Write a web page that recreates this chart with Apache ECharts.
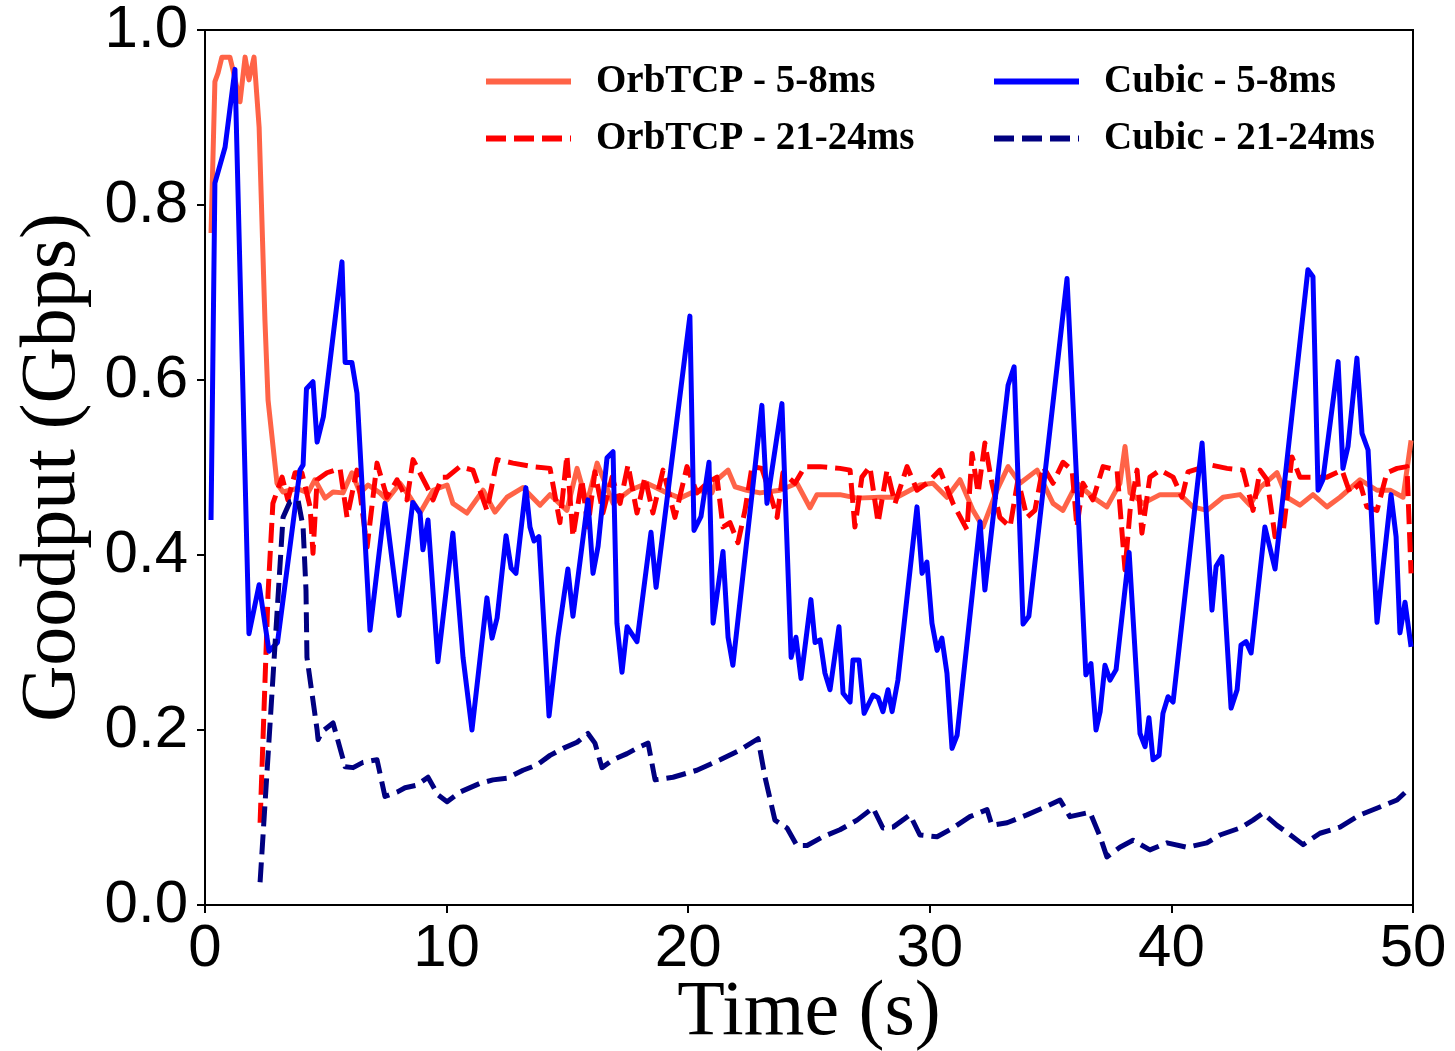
<!DOCTYPE html>
<html>
<head>
<meta charset="utf-8">
<script src="https://cdn.jsdelivr.net/npm/echarts@6/dist/echarts.min.js"></script>
<style>
  html, body { margin: 0; padding: 0; background: #fff; }
  #goodput-graph { width: 1455px; height: 1051px; }
</style>
</head>
<body>
<div id="goodput-graph"></div>
<script>
// time (s) / goodput (Gbps)
const orb_short_t = [0.25, 0.41, 0.54, 0.7, 1.03, 1.16, 1.45, 1.66, 1.82, 2.03, 2.24, 2.48, 2.61, 2.98, 3.23, 3.81, 4.26, 4.55, 4.97, 5.3, 5.71, 6.08, 6.42, 6.75, 7.24, 7.53, 8.07, 8.49, 8.9, 9.44, 10.02, 10.26, 10.84, 11.51, 12.0, 12.5, 13.16, 13.87, 14.28, 14.98, 15.4, 15.81, 16.23, 16.89, 17.59, 18.29, 19.12, 19.66, 20.36, 20.98, 21.19, 21.65, 21.94, 22.43, 22.97, 23.8, 24.5, 25.04, 25.33, 26.28, 26.99, 27.94, 28.64, 29.59, 30.13, 30.71, 31.25, 31.79, 32.2, 32.78, 33.24, 33.73, 34.44, 35.1, 35.51, 36.09, 36.75, 37.33, 37.87, 38.08, 38.29, 38.83, 39.53, 40.36, 40.89, 41.47, 42.14, 42.84, 43.25, 43.67, 44.37, 44.78, 45.32, 45.86, 46.44, 46.98, 47.81, 48.51, 49.05, 49.59, 49.92];
const orb_short_v = [0.768, 0.941, 0.951, 0.969, 0.969, 0.954, 0.918, 0.969, 0.943, 0.969, 0.889, 0.669, 0.577, 0.482, 0.472, 0.476, 0.471, 0.486, 0.465, 0.472, 0.471, 0.494, 0.471, 0.48, 0.471, 0.463, 0.482, 0.466, 0.448, 0.474, 0.48, 0.459, 0.448, 0.474, 0.449, 0.466, 0.477, 0.457, 0.469, 0.451, 0.499, 0.459, 0.505, 0.459, 0.474, 0.482, 0.471, 0.465, 0.474, 0.471, 0.486, 0.497, 0.478, 0.474, 0.471, 0.474, 0.482, 0.454, 0.469, 0.469, 0.465, 0.466, 0.466, 0.48, 0.482, 0.466, 0.486, 0.451, 0.432, 0.474, 0.501, 0.482, 0.497, 0.459, 0.451, 0.482, 0.466, 0.455, 0.482, 0.524, 0.471, 0.459, 0.469, 0.469, 0.455, 0.451, 0.466, 0.469, 0.457, 0.477, 0.494, 0.466, 0.457, 0.469, 0.455, 0.466, 0.486, 0.474, 0.474, 0.466, 0.531];

const orb_long_t = [2.28, 2.61, 2.81, 3.19, 3.43, 3.73, 4.01, 4.35, 4.47, 4.64, 5.05, 5.59, 5.88, 6.29, 6.71, 7.12, 7.53, 7.95, 8.36, 8.61, 9.19, 9.44, 9.81, 10.02, 10.55, 11.09, 11.67, 12.09, 12.75, 13.58, 14.28, 14.69, 14.98, 15.23, 15.6, 15.85, 16.14, 16.47, 16.85, 17.18, 17.51, 17.88, 18.21, 18.54, 18.96, 19.45, 19.95, 20.36, 20.78, 21.19, 21.44, 21.73, 22.06, 22.35, 22.64, 23.05, 23.38, 23.68, 23.92, 24.42, 24.83, 25.46, 26.28, 26.7, 26.9, 27.19, 27.52, 27.86, 28.23, 28.56, 29.06, 29.47, 29.88, 30.42, 30.96, 31.54, 31.75, 32.0, 32.28, 32.57, 32.9, 33.32, 33.65, 34.02, 34.35, 34.69, 35.1, 35.51, 35.89, 36.09, 36.34, 36.75, 37.17, 37.75, 38.08, 38.29, 38.58, 38.78, 39.11, 39.53, 40.07, 40.44, 40.69, 41.6, 42.3, 42.96, 43.38, 43.67, 43.96, 44.29, 44.62, 44.99, 45.32, 45.86, 46.44, 47.06, 47.39, 47.81, 48.09, 48.51, 48.92, 49.34, 49.75, 49.92];
const orb_long_v = [0.094, 0.356, 0.459, 0.489, 0.463, 0.494, 0.494, 0.455, 0.402, 0.486, 0.494, 0.499, 0.443, 0.497, 0.409, 0.505, 0.466, 0.486, 0.463, 0.509, 0.478, 0.463, 0.489, 0.489, 0.501, 0.497, 0.451, 0.509, 0.505, 0.501, 0.499, 0.437, 0.514, 0.421, 0.486, 0.432, 0.495, 0.448, 0.489, 0.459, 0.503, 0.448, 0.489, 0.448, 0.497, 0.443, 0.501, 0.471, 0.482, 0.489, 0.432, 0.437, 0.414, 0.451, 0.501, 0.499, 0.471, 0.443, 0.494, 0.482, 0.501, 0.501, 0.499, 0.497, 0.432, 0.489, 0.501, 0.437, 0.497, 0.459, 0.501, 0.474, 0.482, 0.497, 0.459, 0.429, 0.516, 0.471, 0.528, 0.482, 0.443, 0.432, 0.486, 0.443, 0.451, 0.501, 0.482, 0.506, 0.497, 0.432, 0.482, 0.463, 0.501, 0.497, 0.383, 0.451, 0.497, 0.425, 0.489, 0.497, 0.489, 0.466, 0.495, 0.503, 0.499, 0.497, 0.451, 0.497, 0.486, 0.421, 0.425, 0.512, 0.489, 0.489, 0.489, 0.497, 0.471, 0.482, 0.455, 0.451, 0.494, 0.499, 0.501, 0.379];

const cubic_short_t = [0.25, 0.41, 0.83, 1.24, 1.82, 2.24, 2.65, 3.0, 3.93, 4.06, 4.2, 4.47, 4.64, 4.9, 5.67, 5.8, 6.08, 6.29, 6.83, 7.45, 8.03, 8.6, 8.9, 9.02, 9.23, 9.64, 10.26, 10.68, 11.05, 11.67, 11.88, 12.09, 12.46, 12.67, 12.87, 13.28, 13.45, 13.62, 13.82, 14.24, 14.61, 15.02, 15.23, 15.85, 16.06, 16.27, 16.64, 16.89, 17.05, 17.26, 17.47, 17.88, 18.46, 18.67, 20.07, 20.24, 20.53, 20.86, 21.03, 21.44, 21.65, 21.85, 23.05, 23.26, 23.88, 24.26, 24.46, 24.67, 25.08, 25.25, 25.46, 25.66, 25.87, 26.24, 26.41, 26.7, 26.82, 27.07, 27.28, 27.65, 27.86, 28.06, 28.27, 28.44, 28.68, 29.47, 29.68, 29.88, 30.09, 30.3, 30.5, 30.71, 30.92, 31.13, 32.08, 32.28, 33.24, 33.49, 33.86, 34.1, 35.68, 36.46, 36.67, 36.88, 37.05, 37.25, 37.46, 37.71, 38.25, 38.7, 38.91, 39.07, 39.24, 39.49, 39.65, 39.86, 40.07, 41.27, 41.68, 41.85, 42.09, 42.47, 42.72, 42.88, 43.09, 43.3, 43.87, 44.29, 45.65, 45.86, 46.07, 46.27, 46.9, 47.1, 47.31, 47.68, 47.89, 48.14, 48.51, 49.09, 49.3, 49.46, 49.67, 49.92];
const cubic_short_v = [0.44, 0.825, 0.866, 0.955, 0.31, 0.366, 0.29, 0.3, 0.497, 0.503, 0.59, 0.598, 0.529, 0.558, 0.735, 0.62, 0.62, 0.585, 0.314, 0.459, 0.331, 0.46, 0.448, 0.406, 0.44, 0.278, 0.425, 0.283, 0.2, 0.351, 0.305, 0.328, 0.422, 0.385, 0.379, 0.477, 0.432, 0.416, 0.421, 0.216, 0.306, 0.384, 0.33, 0.463, 0.379, 0.41, 0.511, 0.518, 0.322, 0.266, 0.318, 0.301, 0.426, 0.363, 0.673, 0.428, 0.444, 0.506, 0.322, 0.404, 0.306, 0.274, 0.571, 0.459, 0.573, 0.283, 0.306, 0.259, 0.349, 0.3, 0.303, 0.265, 0.246, 0.318, 0.242, 0.232, 0.28, 0.28, 0.219, 0.24, 0.237, 0.221, 0.246, 0.221, 0.257, 0.455, 0.379, 0.392, 0.322, 0.291, 0.305, 0.265, 0.179, 0.194, 0.438, 0.36, 0.594, 0.615, 0.321, 0.33, 0.716, 0.263, 0.276, 0.2, 0.221, 0.274, 0.257, 0.269, 0.403, 0.196, 0.181, 0.214, 0.166, 0.171, 0.219, 0.238, 0.232, 0.528, 0.337, 0.387, 0.398, 0.225, 0.246, 0.297, 0.301, 0.288, 0.432, 0.384, 0.726, 0.718, 0.474, 0.486, 0.621, 0.499, 0.524, 0.625, 0.539, 0.52, 0.323, 0.469, 0.421, 0.311, 0.346, 0.295];

const cubic_long_t = [2.28, 3.23, 3.52, 3.85, 4.06, 4.18, 4.22, 4.64, 4.68, 4.84, 5.3, 5.8, 6.13, 6.54, 7.12, 7.45, 7.95, 8.28, 8.77, 9.23, 9.64, 10.02, 10.55, 11.38, 11.92, 12.5, 13.16, 13.74, 14.28, 14.82, 15.4, 15.85, 16.14, 16.43, 16.89, 17.47, 18.0, 18.34, 18.63, 19.37, 20.36, 21.32, 22.14, 22.89, 23.18, 23.59, 24.09, 24.5, 24.92, 25.58, 26.28, 26.99, 27.65, 28.06, 28.48, 29.18, 29.59, 30.3, 30.96, 31.66, 32.37, 32.57, 33.2, 34.02, 34.69, 35.39, 35.8, 36.63, 37.05, 37.33, 37.87, 38.41, 39.11, 39.82, 40.65, 41.47, 42.01, 42.84, 43.38, 43.79, 44.37, 44.78, 45.45, 46.15, 46.98, 47.81, 48.63, 49.34, 49.88];
const cubic_long_v = [0.026, 0.443, 0.461, 0.463, 0.432, 0.36, 0.283, 0.2, 0.189, 0.198, 0.208, 0.158, 0.157, 0.163, 0.166, 0.124, 0.129, 0.134, 0.137, 0.146, 0.126, 0.118, 0.129, 0.139, 0.143, 0.145, 0.154, 0.16, 0.171, 0.179, 0.186, 0.196, 0.185, 0.157, 0.166, 0.173, 0.181, 0.185, 0.143, 0.146, 0.154, 0.166, 0.177, 0.19, 0.146, 0.097, 0.088, 0.068, 0.068, 0.078, 0.086, 0.097, 0.111, 0.088, 0.089, 0.103, 0.08, 0.078, 0.088, 0.101, 0.109, 0.091, 0.094, 0.103, 0.111, 0.12, 0.101, 0.106, 0.078, 0.055, 0.066, 0.074, 0.063, 0.071, 0.066, 0.071, 0.08, 0.088, 0.097, 0.105, 0.091, 0.083, 0.069, 0.082, 0.089, 0.103, 0.112, 0.12, 0.134];

const TEXT_ORB_SHORT = 'OrbTCP - 5-8ms';
const TEXT_ORB_LONG = 'OrbTCP - 21-24ms';
const TEXT_CUBIC_SHORT = 'Cubic - 5-8ms';
const TEXT_CUBIC_LONG = 'Cubic - 21-24ms';

const SERIF = '"Liberation Serif", "Times New Roman", serif';
const SANS = '"Liberation Sans", Arial, sans-serif';

function pairs(t, v) {
    return t.map((x, i) => [x, v[i]]);
}

function line_series(name, t, v, color, width, dashed) {
    return {
        name: name,
        type: 'line',
        symbol: 'none',
        showSymbol: false,
        data: pairs(t, v),
        lineStyle: {
            color: color,
            width: width,
            type: dashed ? [20, 8] : 'solid',
            cap: 'butt',
            join: 'round'
        },
        itemStyle: { color: color },
        animation: false
    };
}

let goodput_graph = echarts.init(document.getElementById('goodput-graph'));

function make_legend(left, names) {
    return {
        orient: 'vertical',
        left: left,
        top: 62,
        padding: 0,
        itemWidth: 85,
        itemHeight: 40,
        itemGap: 18,
        itemStyle: { opacity: 0 },
        lineStyle: { width: 6, type: 'inherit', cap: 'butt' },
        textStyle: {
            fontFamily: SERIF,
            fontWeight: 'bold',
            fontSize: 39,
            color: '#000',
            padding: [0, 0, 0, 20]
        },
        data: names
    };
}

let echarts_options = {
    backgroundColor: '#fff',
    animation: false,
    grid: {
        left: 205,
        right: 42,
        top: 30,
        bottom: 146,
        containLabel: false,
        outerBoundsMode: 'none',
        show: true,
        borderColor: '#000',
        borderWidth: 2,
        backgroundColor: 'transparent'
    },
    legend: [
        make_legend(483, [TEXT_ORB_SHORT, TEXT_ORB_LONG]),
        make_legend(991, [TEXT_CUBIC_SHORT, TEXT_CUBIC_LONG])
    ],
    xAxis: {
        type: 'value',
        min: 0,
        max: 50,
        interval: 10,
        name: 'Time (s)',
        nameLocation: 'middle',
        nameGap: 70,
        nameMoveOverlap: false,
        nameTextStyle: { fontFamily: SERIF, fontSize: 78, color: '#000' },
        axisLine: { show: true, lineStyle: { color: '#000', width: 2 } },
        axisTick: { show: true, inside: false, length: 8, lineStyle: { color: '#000', width: 2 } },
        axisLabel: { fontFamily: SANS, fontSize: 60, color: '#000', margin: 14 },
        splitLine: { show: false }
    },
    yAxis: {
        type: 'value',
        min: 0,
        max: 1,
        interval: 0.2,
        name: 'Goodput (Gbps)',
        nameLocation: 'middle',
        nameGap: 112,
        nameMoveOverlap: false,
        nameTextStyle: { fontFamily: SERIF, fontSize: 78, color: '#000' },
        axisLine: { show: true, lineStyle: { color: '#000', width: 2 } },
        axisTick: { show: true, inside: false, length: 8, lineStyle: { color: '#000', width: 2 } },
        axisLabel: {
            fontFamily: SANS,
            fontSize: 60,
            color: '#000',
            margin: 17,
            formatter: v => v.toFixed(1)
        },
        splitLine: { show: false }
    },
    series: [
        line_series(TEXT_ORB_SHORT, orb_short_t, orb_short_v, '#FF6347', 5, false),
        line_series(TEXT_ORB_LONG, orb_long_t, orb_long_v, '#FF0000', 5, true),
        line_series(TEXT_CUBIC_SHORT, cubic_short_t, cubic_short_v, '#0000FF', 5, false),
        line_series(TEXT_CUBIC_LONG, cubic_long_t, cubic_long_v, '#000080', 5, true)
    ]
};

goodput_graph.setOption(echarts_options);
</script>
</body>
</html>
